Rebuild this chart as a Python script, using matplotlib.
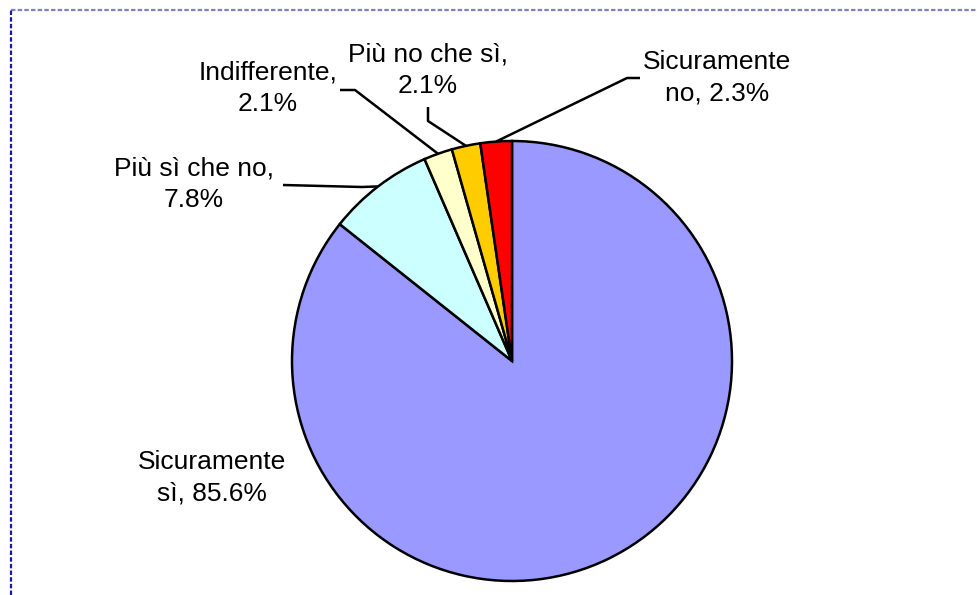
import numpy as np
import matplotlib.pyplot as plt

labels = ["Sicuramente\nsì, 85.6%", "Più sì che no,\n7.8%", "Indifferente,\n2.1%",
          "Più no che sì,\n2.1%", "Sicuramente\nno, 2.3%"]
values = [85.6, 7.8, 2.1, 2.1, 2.3]
colors = ["#9999FF", "#CCFFFF", "#FFFFCC", "#FFCC00", "#FF0000"]

W, H = 977, 595
plt.rcParams['font.family'] = ['Liberation Sans', 'DejaVu Sans']

fig = plt.figure(figsize=(W / 100, H / 100), dpi=100)
ax = fig.add_axes([0, 0, 1, 1])
ax.set_xlim(0, W)
ax.set_ylim(0, H)
ax.set_aspect('equal')
ax.axis('off')

# work in pixel coords, y measured from the top
def px(x, y):
    return x, H - y

cx, cy = px(512, 361)
R = 220
wedges, _ = ax.pie(values, colors=colors, startangle=90, counterclock=False,
                   center=(cx, cy), radius=R,
                   wedgeprops=dict(edgecolor='black', linewidth=1.8))
ax.set_xlim(0, W)
ax.set_ylim(0, H)

# label centre and leader elbow points (pixels)
text_pos = [(212, 478), (194, 184), (268, 88), (428, 70), (717, 78)]
elbows = [None,
          [(283, 185), (362, 187)],
          [(340, 90), (355, 90)],
          [(428, 107), (428, 121)],
          [(640, 78), (627, 78)]]

for w, lab, tp, el in zip(wedges, labels, text_pos, elbows):
    ax.text(*px(*tp), lab, ha='center', va='center', fontsize=19,
            linespacing=1.42, color='black')
    if el is None:
        continue
    mid = np.deg2rad((w.theta1 + w.theta2) / 2)
    ex, ey = cx + R * np.cos(mid), cy + R * np.sin(mid)
    xs = [px(*p)[0] for p in el] + [ex]
    ys = [px(*p)[1] for p in el] + [ey]
    ax.plot(xs, ys, color='black', lw=1.8, solid_capstyle='butt')

# dotted chart-area border (right and bottom are cut off)
fig.add_artist(plt.Line2D([11 / W, 1], [1 - 10 / H] * 2, transform=fig.transFigure,
                          color='#7f7fc4', lw=1.6, linestyle=(0, (2, 1))))
fig.add_artist(plt.Line2D([11 / W] * 2, [0, 1 - 10 / H], transform=fig.transFigure,
                          color='#1a1aa0', lw=1.6, linestyle=(0, (2, 1))))

fig.savefig("out.png", dpi=100)
